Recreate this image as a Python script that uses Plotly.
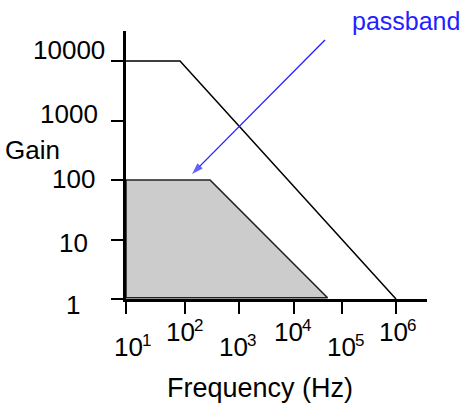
import math
import plotly.graph_objects as go

# --- data -----------------------------------------------------------------
gain_ticks = [1, 10, 100, 1000, 10000]
gain_tick_labels = ["1", "10", "100", "1000", "10000"]

freq_ticks = [10, 124, 1250, 12900, 1.0e5, 1.0e6]
freq_tick_base = ["10", "10", "10", "10", "10", "10"]
freq_tick_exp = ["1", "2", "3", "4", "5", "6"]

# open-loop gain: flat, then rolling off
open_loop_freq = [10, 100, 1.0e6]
open_loop_gain = [10000, 10000, 1]

# closed-loop (passband) region
band_freq = [10, 360, 54000, 10, 10]
band_gain = [100, 100, 1.05, 1.05, 100]

# pointer from the "passband" label to the band
pointer_freq = [48400, 167]
pointer_gain = [22500, 126]

# --- style ----------------------------------------------------------------
FONT = "Liberation Sans"
FS = 26
FS_EXP = 17
BLUE = "#1f1fff"

# per-label offsets (pixels) for the staggered tick labels
gain_label_dx = [-44, -36, -29, -26, -19]
gain_label_dy = [-6, -3, 1.5, 7, 11]
freq_label_dx = [17, 10, 9, 9, 14, 12]       # base/exponent junction
freq_label_dy = [-48, -33, -48, -33, -48, -33]  # base digit centre
EXP_RAISE = 7

fig = go.Figure()

fig.add_trace(go.Scatter(
    x=band_freq, y=band_gain, mode="lines", fill="toself",
    fillcolor="#cccccc", line=dict(color="#222222", width=1.6),
    hoverinfo="skip", showlegend=False))

fig.add_trace(go.Scatter(
    x=open_loop_freq, y=open_loop_gain, mode="lines",
    line=dict(color="black", width=1.5),
    hoverinfo="skip", showlegend=False))

fig.add_trace(go.Scatter(
    x=pointer_freq, y=pointer_gain, mode="lines+markers",
    line=dict(color=BLUE, width=1.3),
    marker=dict(symbol="arrow", size=[0, 12], angleref="previous",
                color=BLUE, line=dict(width=0)),
    hoverinfo="skip", showlegend=False))

annotations = []
for v, t, dx, dy in zip(gain_ticks, gain_tick_labels, gain_label_dx, gain_label_dy):
    annotations.append(dict(
        x=1, y=math.log10(v), xref="x", yref="y", text=t, showarrow=False,
        xanchor="right", yanchor="middle", xshift=dx, yshift=dy,
        font=dict(family=FONT, size=FS, color="black")))

for v, b, e, dx, dy in zip(freq_ticks, freq_tick_base, freq_tick_exp,
                           freq_label_dx, freq_label_dy):
    annotations.append(dict(
        x=math.log10(v), y=0, xref="x", yref="y", text=b, showarrow=False,
        xanchor="right", yanchor="middle", xshift=dx + 1, yshift=dy, borderpad=0,
        font=dict(family=FONT, size=FS, color="black")))
    annotations.append(dict(
        x=math.log10(v), y=0, xref="x", yref="y", text=e, showarrow=False,
        xanchor="left", yanchor="middle", xshift=dx - 2,
        yshift=dy + EXP_RAISE, borderpad=0,
        font=dict(family=FONT, size=FS_EXP, color="black")))

annotations += [
    dict(x=-0.309, y=0.556, xref="paper", yref="paper", text="Gain",
         showarrow=False, xanchor="center", yanchor="middle",
         font=dict(family=FONT, size=FS, color="black")),
    dict(x=0.445, y=-0.332, xref="paper", yref="paper", text="Frequency (Hz)",
         showarrow=False, xanchor="center", yanchor="middle",
         font=dict(family=FONT, size=27, color="black")),
    dict(x=0.930, y=1.037, xref="paper", yref="paper", text="passband",
         showarrow=False, xanchor="center", yanchor="middle",
         font=dict(family=FONT, size=25, color=BLUE)),
]

fig.update_xaxes(
    type="log", range=[1, 1 + 301 / 54.0],
    tickvals=freq_ticks, showticklabels=False,
    ticks="outside", ticklen=12, tickwidth=1.5, tickcolor="black",
    showline=True, linewidth=3, linecolor="black",
    showgrid=False, zeroline=False)

fig.update_yaxes(
    type="log", range=[0, 268 / 59.5],
    tickvals=gain_ticks, showticklabels=False,
    ticks="outside", ticklen=12, tickwidth=1.5, tickcolor="black",
    showline=True, linewidth=3, linecolor="black",
    showgrid=False, zeroline=False)

fig.update_layout(
    width=463, height=405,
    margin=dict(l=126, r=36, t=31, b=106),
    plot_bgcolor="white", paper_bgcolor="white",
    annotations=annotations,
    font=dict(family=FONT, size=FS, color="black"),
)

fig.write_html("out.html")
